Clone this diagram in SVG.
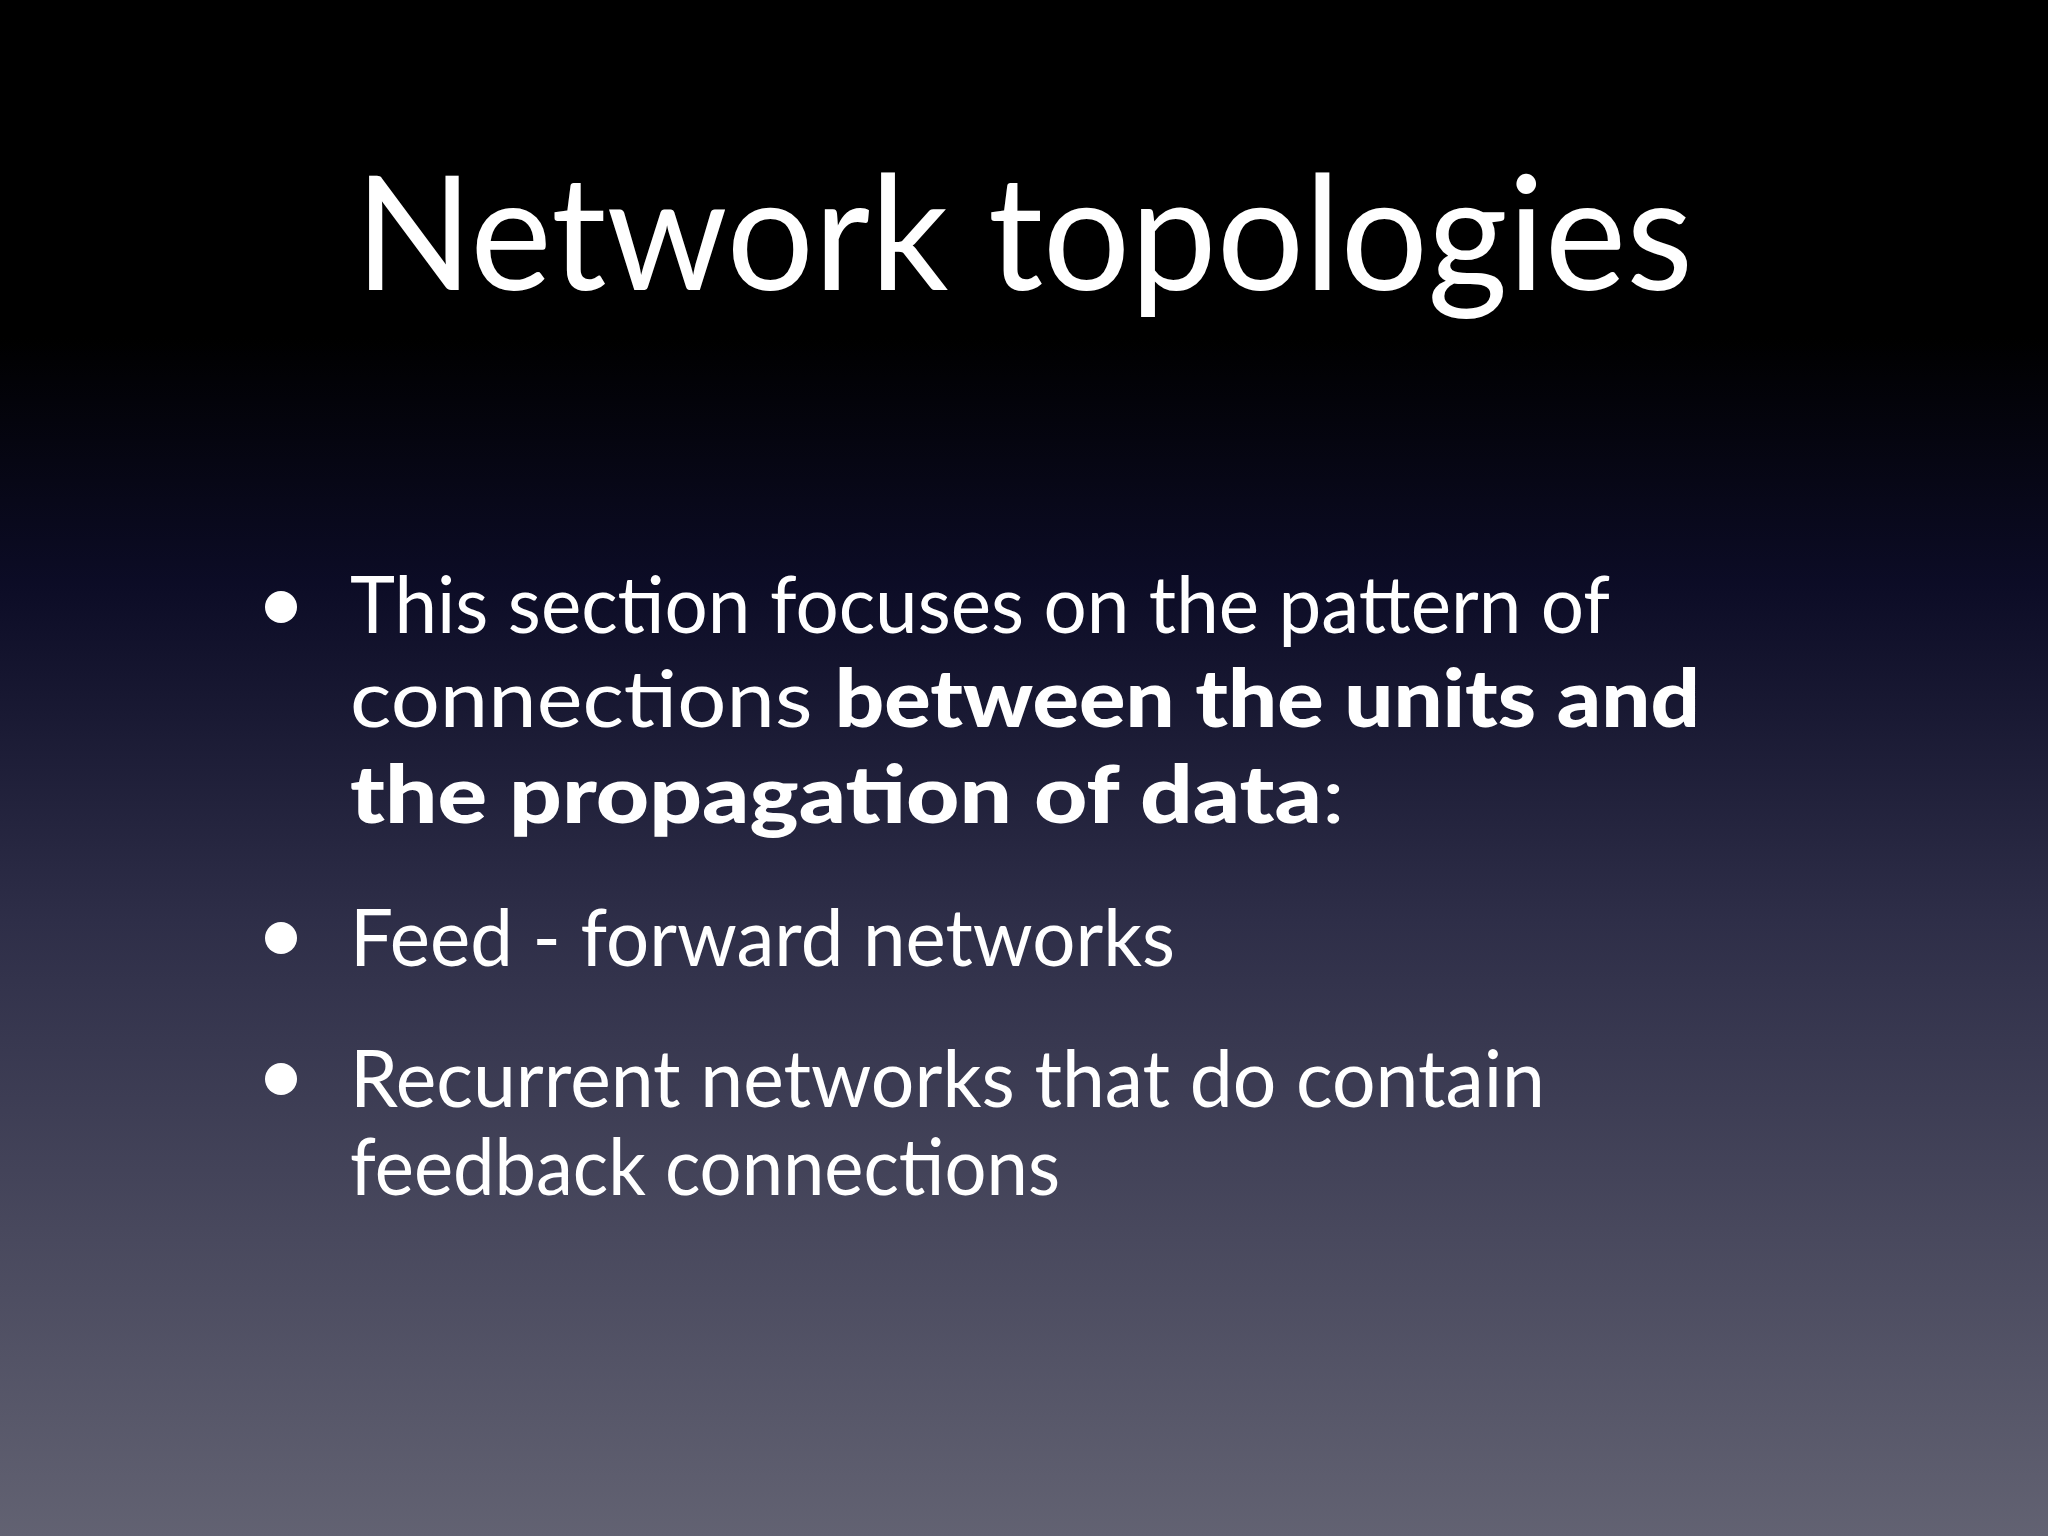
<svg xmlns="http://www.w3.org/2000/svg" width="2048" height="1536" viewBox="0 0 2048 1536">
<defs>
<linearGradient id="bg" x1="0" y1="0" x2="0" y2="1">
<stop offset="0" stop-color="#000000"/>
<stop offset="0.22" stop-color="#000000"/>
<stop offset="0.38" stop-color="#0c0c26"/>
<stop offset="0.6" stop-color="#2e2e48"/>
<stop offset="1" stop-color="#626272"/>
</linearGradient>
<style>
.t{font-family:Lato,"Open Sans","Liberation Sans",sans-serif;fill:#ffffff}
.b{font-size:80px}
.bold{font-weight:900}
</style>
</defs>
<rect width="2048" height="1536" fill="url(#bg)"/>
<text class="t" x="355" y="290" font-size="160" textLength="1338" lengthAdjust="spacingAndGlyphs">Network topologies</text>
<g id="bullets" fill="#ffffff">
<circle cx="281" cy="607" r="16"/>
<circle cx="281" cy="938" r="16"/>
<circle cx="281" cy="1079" r="16"/>
</g>
<text class="t b" x="350" y="633" textLength="1260" lengthAdjust="spacingAndGlyphs">This section focuses on the pattern of</text>
<text class="t b" x="350" y="727" textLength="1350" lengthAdjust="spacingAndGlyphs">connections <tspan class="bold">between the units and</tspan></text>
<text class="t b" x="350" y="823" textLength="995" lengthAdjust="spacingAndGlyphs"><tspan class="bold">the propagation of data</tspan>:</text>
<text class="t b" x="350" y="966" textLength="825" lengthAdjust="spacingAndGlyphs">Feed - forward networks</text>
<text class="t b" x="350" y="1107" textLength="1195" lengthAdjust="spacingAndGlyphs">Recurrent networks that do contain</text>
<text class="t b" x="350" y="1195" textLength="710" lengthAdjust="spacingAndGlyphs">feedback connections</text>
</svg>
